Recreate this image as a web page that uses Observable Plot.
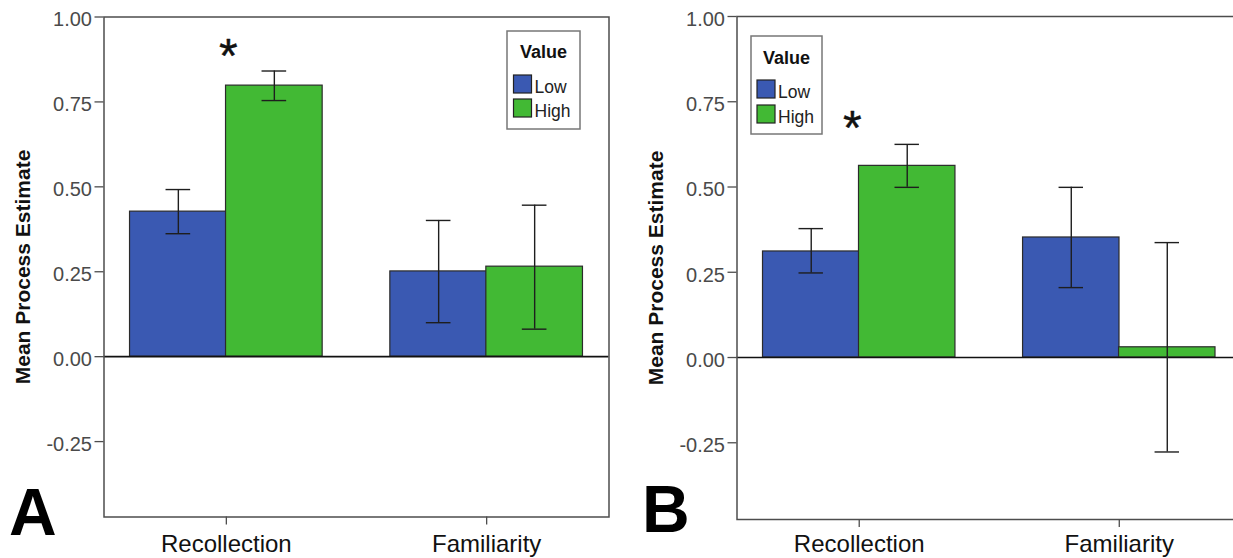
<!DOCTYPE html>
<html>
<head>
<meta charset="utf-8">
<script src="https://cdn.jsdelivr.net/npm/d3@7"></script>
<script src="https://cdn.jsdelivr.net/npm/@observablehq/plot@0.6"></script>
<style>
  html, body { margin: 0; padding: 0; background: #fff; overflow: hidden; width: 1233px; height: 558px; }
  #wrap { position: relative; width: 1233px; height: 558px; overflow: hidden; }
  .panel { position: absolute; top: 0; }
  .panel svg { display: block; overflow: visible; max-width: none !important; }
  g[aria-label="y-axis tick label"] text { fill: #4a4a4a; }
  g[aria-label="x-axis tick label"] text { fill: #111; }
</style>
</head>
<body>
<div id="wrap"></div>
<script>
// Categories, groups and colours shared by both panels
const categories = ["Recollection", "Familiarity"];
const levels = ["Low", "High"];
const levelColors = ["#3a59b2", "#42b934"];
const yTicks = [-0.25, 0, 0.25, 0.5, 0.75, 1];
const yTitle = "Mean Process Estimate";
const legendTitle = "Value";

// Panel A: means and error-bar limits, ordered as in `categories`
const aLowMean  = [0.427, 0.251];
const aLowLo    = [0.362, 0.100];
const aLowHi    = [0.492, 0.401];
const aHighMean = [0.798, 0.265];
const aHighLo   = [0.754, 0.081];
const aHighHi   = [0.841, 0.446];
const aStar     = {category: "Recollection", y: 0.91};

// Panel B
const bLowMean  = [0.311, 0.352];
const bLowLo    = [0.248, 0.205];
const bLowHi    = [0.378, 0.499];
const bHighMean = [0.562, 0.030];
const bHighLo   = [0.499, -0.277];
const bHighHi   = [0.625, 0.337];
const bStar     = {category: "Recollection", y: 0.698};

function rows(lowMean, lowLo, lowHi, highMean, highLo, highHi) {
  const out = [];
  categories.forEach((c, i) => {
    out.push({category: c, level: "Low", mean: lowMean[i], lo: lowLo[i], hi: lowHi[i]});
    out.push({category: c, level: "High", mean: highMean[i], lo: highLo[i], hi: highHi[i]});
  });
  return out;
}

const FONT = "'Liberation Sans', Arial, Helvetica, sans-serif";

function panel(cfg) {
  const data = cfg.data;
  const low = data.filter(d => d.level === "Low");
  const high = data.filter(d => d.level === "High");
  const half = 96;            // each level fills one half of the category band
  const capL = [36, 132];     // cap insets for the Low half
  const capH = [132, 36];     // cap insets for the High half
  const barStyle = {stroke: "#2b2b2b", strokeWidth: 1.2};
  const errStyle = {stroke: "#1e1e1e", strokeWidth: 1.4};

  const svg = Plot.plot({
    width: cfg.width,
    height: 558,
    marginLeft: cfg.marginLeft,
    marginRight: cfg.marginRight,
    marginTop: cfg.marginTop,
    marginBottom: cfg.marginBottom,
    style: {fontFamily: FONT, background: "transparent", overflow: "visible"},
    x: {type: "band", domain: categories, paddingInner: 0.26, paddingOuter: 0.1, round: false},
    y: {domain: [cfg.yMin, 1]},
    color: {domain: levels, range: levelColors},
    marks: [
      Plot.barY(low, {x: "category", y: "mean", fill: "level", insetRight: half, ...barStyle}),
      Plot.barY(high, {x: "category", y: "mean", fill: "level", insetLeft: half, ...barStyle}),
      Plot.ruleY([0], {stroke: "#111", strokeWidth: 1.6}),
      Plot.ruleX(low, {x: "category", y1: "lo", y2: "hi", dx: -48, ...errStyle}),
      Plot.ruleX(high, {x: "category", y1: "lo", y2: "hi", dx: 48, ...errStyle}),
      Plot.tickY(low, {x: "category", y: "lo", insetLeft: capL[0], insetRight: capL[1], ...errStyle}),
      Plot.tickY(low, {x: "category", y: "hi", insetLeft: capL[0], insetRight: capL[1], ...errStyle}),
      Plot.tickY(high, {x: "category", y: "lo", insetLeft: capH[0], insetRight: capH[1], ...errStyle}),
      Plot.tickY(high, {x: "category", y: "hi", insetLeft: capH[0], insetRight: capH[1], ...errStyle}),
      Plot.text([cfg.star], {x: "category", y: "y", text: () => "*", fontSize: 48, dx: cfg.starDx, dy: 9,
                             fill: "#111", stroke: "#111", strokeWidth: 0.4}),
      Plot.frame({stroke: "#4d4d4d", strokeWidth: 1.5}),
      Plot.axisY(yTicks, {fill: "none", tickSize: 9, stroke: "#4d4d4d", strokeWidth: 1.3, label: null}),
      Plot.axisY(yTicks, {stroke: "none", tickSize: 9, tickPadding: 3, dy: 3, fontSize: 20,
                          tickFormat: d => d.toFixed(2), label: null}),
      Plot.axisX({fill: "none", tickSize: 8, stroke: "#4d4d4d", strokeWidth: 1.3, label: null}),
      Plot.axisX({stroke: "none", tickSize: 8, tickPadding: cfg.xLabelPad, fontSize: 24, label: null}),
      Plot.text([yTitle], {frameAnchor: "left", text: d => d, rotate: -90, dx: -81, textAnchor: "middle",
                           fontSize: 21, fontWeight: "bold", fill: "#111"})
    ]
  });

  // Legend box and panel letter
  const s = d3.select(svg);
  const lg = cfg.legend;
  const g = s.append("g").attr("font-family", FONT);
  g.append("rect").attr("x", lg.x).attr("y", lg.y).attr("width", lg.w).attr("height", lg.h)
    .attr("fill", "#fff").attr("stroke", "#777").attr("stroke-width", 1.5);
  g.append("text").attr("x", lg.x + lg.w / 2).attr("y", lg.titleY)
    .attr("text-anchor", "middle").attr("font-size", 18).attr("font-weight", "bold")
    .attr("fill", "#111").text(legendTitle);
  levels.forEach((lv, i) => {
    g.append("rect").attr("x", lg.swX).attr("y", lg.swY[i]).attr("width", 18).attr("height", 18)
      .attr("fill", levelColors[i]).attr("stroke", "#222").attr("stroke-width", 1.2);
    g.append("text").attr("x", lg.swX + 21).attr("y", lg.swY[i] + 17.5)
      .attr("text-anchor", "start").attr("font-size", 17.5).attr("fill", "#222").text(lv);
  });
  s.append("text").attr("x", cfg.letter.x).attr("y", cfg.letter.y)
    .attr("text-anchor", "start")
    .attr("font-family", FONT).attr("font-size", 66).attr("font-weight", "bold")
    .attr("fill", "#000").text(cfg.letter.text);

  const div = document.createElement("div");
  div.className = "panel";
  div.style.left = cfg.left + "px";
  div.style.width = cfg.width + "px";
  div.appendChild(svg);
  document.getElementById("wrap").appendChild(div);
}

panel({
  data: rows(aLowMean, aLowLo, aLowHi, aHighMean, aHighLo, aHighHi),
  star: aStar, starDx: 2, xLabelPad: 10,
  left: 0, width: 620,
  marginLeft: 103.5, marginRight: 11.5, marginTop: 16.5, marginBottom: 41.5,
  yMin: -0.472,
  legend: {x: 507, y: 31, w: 73, h: 98, titleY: 57.5, swX: 513.5, swY: [75, 99]},
  letter: {text: "A", x: 9, y: 535}
});

panel({
  data: rows(bLowMean, bLowLo, bLowHi, bHighMean, bHighLo, bHighHi),
  star: bStar, starDx: -7, xLabelPad: 7,
  left: 620, width: 621,
  marginLeft: 116.5, marginRight: 0, marginTop: 16, marginBottom: 39,
  yMin: -0.475,
  legend: {x: 131, y: 36, w: 71, h: 98, titleY: 64, swX: 137, swY: [80, 105]},
  letter: {text: "B", x: 22, y: 532}
});
</script>
</body>
</html>
